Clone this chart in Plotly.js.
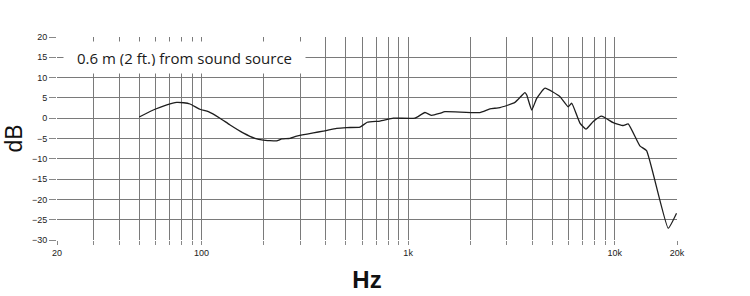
<!DOCTYPE html>
<html>
<head>
<meta charset="utf-8">
<script src="https://cdn.plot.ly/plotly-3.0.1.min.js"></script>
<style>html,body{margin:0;padding:0;background:#fff;}#chart{width:750px;height:296px;}</style>
</head>
<body>
<div id="chart"></div>
<script>
// Frequency (Hz) and response (dB)
const freqHz = [50, 59.6, 68, 75.9, 82, 88, 98.4, 108, 123, 137, 159, 181.5, 199, 231, 244.6, 268, 289, 348, 388, 451, 505, 585, 634, 731, 848, 1079, 1206, 1300, 1426, 1507, 2224, 2488, 2781, 3288, 3675, 3750, 3963, 4190, 4594, 5432, 5957, 6185, 6782, 7250, 7866, 8630, 9825, 10980, 11610, 13220, 14250, 18130, 19900];
const levelDb = [0.3, 2.2, 3.3, 3.9, 3.8, 3.5, 2.2, 1.6, 0, -1.6, -3.6, -4.95, -5.4, -5.6, -5.1, -4.95, -4.4, -3.6, -3.2, -2.5, -2.3, -2.2, -1.0, -0.7, 0, 0, 1.4, 0.7, 1.2, 1.6, 1.4, 2.3, 2.6, 3.9, 6.3, 5.7, 2.0, 4.9, 7.4, 5.3, 2.8, 3.7, -1.2, -2.7, -0.8, 0.5, -1.1, -1.8, -1.4, -6.8, -8.0, -27.1, -23.4];

const xTickVals = [20, 30, 40, 50, 60, 70, 80, 90, 100, 200, 300, 400, 500, 600, 700, 800, 900, 1000, 2000, 3000, 4000, 5000, 6000, 7000, 8000, 9000, 10000, 20000];
const xTickText = ['20', '', '', '', '', '', '', '', '100', '', '', '', '', '', '', '', '', '1k', '', '', '', '', '', '', '', '', '10k', '20k'];
const yTickVals = [20, 15, 10, 5, 0, -5, -10, -15, -20, -25, -30];

const labelText = '0.6 m (2 ft.) from sound source';

const trace = {
  x: freqHz, y: levelDb, type: 'scatter', mode: 'lines',
  line: {color: '#1e1e1e', width: 1.3, shape: 'spline', smoothing: 0.4},
  hoverinfo: 'skip'
};

const layout = {
  width: 750, height: 296,
  margin: {l: 57, r: 73, t: 37, b: 56},
  paper_bgcolor: '#fff', plot_bgcolor: '#fff',
  showlegend: false,
  font: {family: 'Liberation Sans, Arial, sans-serif', color: '#222'},
  xaxis: {
    type: 'log', range: [Math.log10(20), Math.log10(20000)],
    tickvals: xTickVals, ticktext: xTickText,
    ticks: 'outside', ticklen: 4, tickcolor: '#888', tickwidth: 1,
    showgrid: true, gridcolor: '#7a7a7a', gridwidth: 1,
    showline: false, zeroline: false,
    tickfont: {size: 9, color: '#222'},
    title: {text: 'Hz', font: {size: 24, color: '#111', family: 'Liberation Sans, Arial, sans-serif', weight: 'bold'}, standoff: 14},
    fixedrange: true
  },
  yaxis: {
    range: [-30, 20], tickvals: yTickVals,
    ticks: 'outside', ticklen: 7, tickcolor: '#888', tickwidth: 1,
    showgrid: true, gridcolor: '#7a7a7a', gridwidth: 1,
    showline: false, zeroline: false,
    tickfont: {size: 9, color: '#222'},
    title: {text: 'dB', font: {size: 23, color: '#111'}, standoff: 2},
    fixedrange: true
  },
  annotations: [{
    xref: 'x', yref: 'y', x: 1.92, y: 15,
    text: labelText, showarrow: false,
    font: {size: 15, color: '#1a1a1a', family: 'Open Sans, Liberation Sans, sans-serif'},
    bgcolor: '#fff', width: 227, height: 17, borderpad: 7,
    xanchor: 'center', yanchor: 'middle'
  }]
};

Plotly.newPlot('chart', [trace], layout, {staticPlot: true, displayModeBar: false});
</script>
</body>
</html>
